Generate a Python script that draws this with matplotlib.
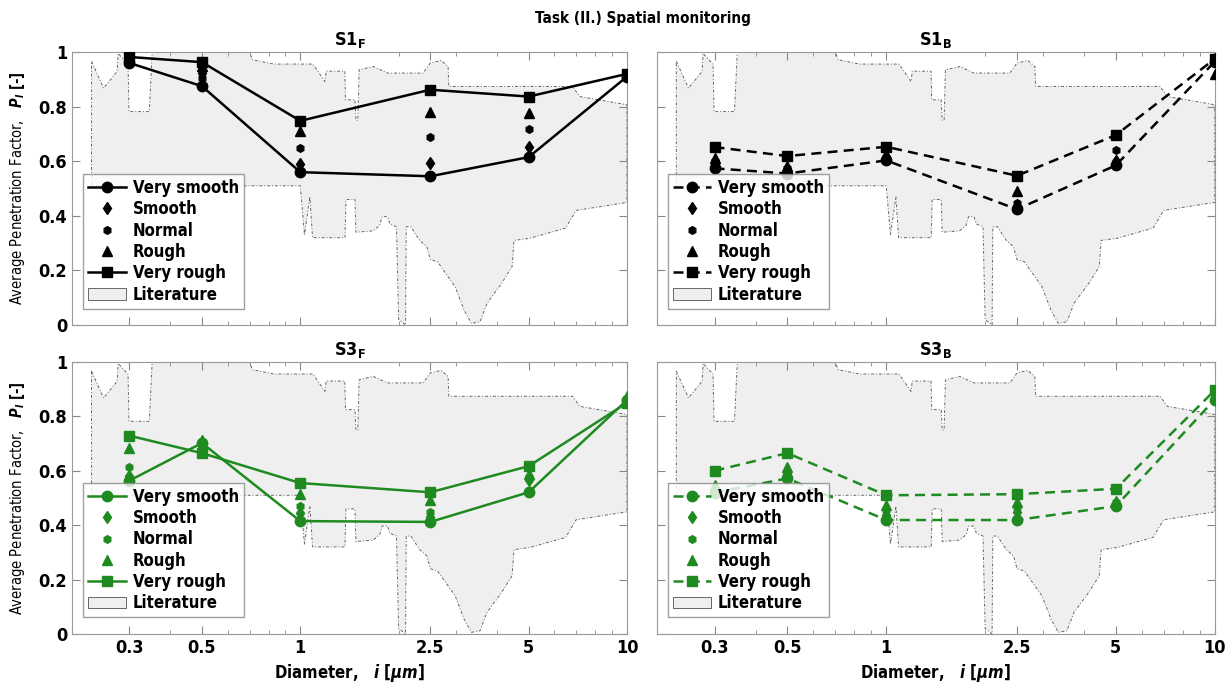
import numpy as np
import matplotlib
matplotlib.use("Agg")
import matplotlib.pyplot as plt
from matplotlib.patches import Patch
from matplotlib.ticker import FixedLocator, LogLocator, NullFormatter

plt.rcParams['font.family'] = ['DejaVu Sans']
plt.rcParams['font.stretch'] = 'condensed'
plt.rcParams['mathtext.fontset'] = 'custom'
plt.rcParams['mathtext.bf'] = 'DejaVu Sans:bold'
plt.rcParams['mathtext.it'] = 'DejaVu Sans:italic:bold'
plt.rcParams['mathtext.rm'] = 'DejaVu Sans:bold'

# particle diameters
sizes = [0.3, 0.5, 1, 2.5, 5, 10]
tick_labels = ['0.3', '0.5', '1', '2.5', '5', '10']

# S1 front
s1f_very_smooth = [0.96, 0.875, 0.56, 0.545, 0.615, 0.91]
s1f_smooth = [0.965, 0.925, 0.59, 0.595, 0.652, 0.915]
s1f_normal = [0.97, 0.905, 0.647, 0.69, 0.718, 0.915]
s1f_rough = [0.975, 0.95, 0.71, 0.78, 0.775, 0.92]
s1f_very_rough = [0.982, 0.963, 0.748, 0.862, 0.837, 0.92]

# S1 back
s1b_very_smooth = [0.574, 0.555, 0.603, 0.424, 0.585, 0.965]
s1b_smooth = [0.59, 0.565, 0.61, 0.437, 0.60, 0.975]
s1b_normal = [0.60, 0.575, 0.615, 0.446, 0.643, 0.975]
s1b_rough = [0.613, 0.582, 0.625, 0.492, 0.60, 0.92]
s1b_very_rough = [0.652, 0.619, 0.653, 0.547, 0.696, 0.975]

# S3 front
s3f_very_smooth = [0.564, 0.702, 0.415, 0.412, 0.521, 0.86]
s3f_smooth = [0.58, 0.705, 0.444, 0.43, 0.565, 0.865]
s3f_normal = [0.615, 0.69, 0.469, 0.45, 0.578, 0.865]
s3f_rough = [0.685, 0.714, 0.514, 0.493, 0.588, 0.875]
s3f_very_rough = [0.729, 0.665, 0.555, 0.521, 0.617, 0.85]

# S3 back
s3b_very_smooth = [0.52, 0.572, 0.419, 0.419, 0.47, 0.862]
s3b_smooth = [0.53, 0.59, 0.437, 0.449, 0.48, 0.866]
s3b_normal = [0.535, 0.596, 0.455, 0.468, 0.485, 0.868]
s3b_rough = [0.547, 0.614, 0.474, 0.486, 0.49, 0.87]
s3b_very_rough = [0.60, 0.665, 0.51, 0.514, 0.534, 0.896]

# literature envelope (upper and lower bound)
lit_up_x = [0.2296, 0.25, 0.275, 0.277, 0.297, 0.299, 0.345, 0.352, 0.70, 0.713, 0.829,
            1.093, 1.19, 1.20, 1.369, 1.375, 1.47, 1.48, 1.50, 1.514, 1.674, 1.85,
            2.378, 2.5, 2.7, 2.834, 2.85, 6.82, 7.17, 10]
lit_up_y = [0.966, 0.868, 0.929, 0.995, 0.955, 0.782, 0.782, 1.0, 1.0, 0.972, 0.956,
            0.956, 0.892, 0.93, 0.93, 0.825, 0.825, 0.75, 0.75, 0.935, 0.947, 0.923,
            0.923, 0.96, 0.969, 0.947, 0.874, 0.874, 0.837, 0.807]
lit_lo_x = [0.2296, 1.0, 1.03, 1.07, 1.09, 1.37, 1.38, 1.47, 1.48, 1.67, 1.75, 1.78,
            1.85, 1.88, 1.97, 2.0, 2.1, 2.11, 2.18, 2.32, 2.44, 2.5, 2.63, 2.834, 2.98,
            3.17, 3.34, 3.55, 3.73, 4.13, 4.45, 4.51, 5.05, 6.49, 6.99, 10]
lit_lo_y = [0.51, 0.51, 0.33, 0.47, 0.32, 0.32, 0.46, 0.46, 0.34, 0.345, 0.365, 0.397,
            0.397, 0.37, 0.36, 0.02, 0.0, 0.36, 0.36, 0.31, 0.287, 0.24, 0.232, 0.177,
            0.14, 0.055, 0.006, 0.012, 0.08, 0.152, 0.214, 0.31, 0.318, 0.355, 0.42, 0.449]

panels = [
    ('S1$_\\mathbf{F}$', 'black', '-', [s1f_very_smooth, s1f_smooth, s1f_normal, s1f_rough, s1f_very_rough]),
    ('S1$_\\mathbf{B}$', 'black', '--', [s1b_very_smooth, s1b_smooth, s1b_normal, s1b_rough, s1b_very_rough]),
    ('S3$_\\mathbf{F}$', '#1f8a1f', '-', [s3f_very_smooth, s3f_smooth, s3f_normal, s3f_rough, s3f_very_rough]),
    ('S3$_\\mathbf{B}$', '#1f8a1f', '--', [s3b_very_smooth, s3b_smooth, s3b_normal, s3b_rough, s3b_very_rough]),
]
names = ['Very smooth', 'Smooth', 'Normal', 'Rough', 'Very rough']
markers = ['o', 'd', 'h', '^', 's']
msizes = [7.5, 6, 5.5, 6.5, 6.5]

positions = [[0.0584, 0.5255, 0.4505, 0.3985], [0.533, 0.5255, 0.453, 0.3985],
             [0.0584, 0.0745, 0.4505, 0.397], [0.533, 0.0745, 0.453, 0.397]]

fig = plt.figure(figsize=(12.32, 6.85), dpi=100)
fig.text(0.522, 0.973, 'Task (II.) Spatial monitoring', ha='center', va='center',
         fontsize=11, fontweight='bold')

poly_x = lit_up_x + lit_lo_x[::-1]
poly_y = lit_up_y + lit_lo_y[::-1]

for k, (title, col, ls, series) in enumerate(panels):
    ax = fig.add_axes(positions[k])
    ax.set_xscale('log')
    ax.fill(poly_x, poly_y, facecolor='#efefef', edgecolor='#666666', lw=0.7,
            linestyle=(0, (3, 2, 1, 2)), zorder=1)
    handles = []
    for i, vals in enumerate(series):
        if i in (0, 4):
            h, = ax.plot(sizes, vals, color=col, ls=ls, lw=1.8, marker=markers[i],
                         ms=msizes[i], zorder=3)
            if ls == '--':
                h.set_dashes((4, 2.5))
        else:
            h, = ax.plot(sizes, vals, color=col, ls='none', marker=markers[i],
                         ms=msizes[i], zorder=3)
        handles.append(h)
    handles.append(Patch(facecolor='#efefef', edgecolor='#666666', lw=0.7))
    leg = ax.legend(handles, names + ['Literature'], loc='lower left',
                    bbox_to_anchor=(0.005, 0.03), prop={'weight': 'bold', 'size': 12},
                    frameon=True, fancybox=False, handlelength=2.3, labelspacing=0.2,
                    borderpad=0.3, handletextpad=0.4)
    leg.get_frame().set_edgecolor('#888888')
    leg.get_frame().set_linewidth(1.0)

    ax.set_xlim(0.2, 10)
    ax.set_ylim(0, 1)
    ax.xaxis.set_major_locator(FixedLocator(sizes))
    ax.xaxis.set_minor_locator(LogLocator(base=10, subs=np.arange(2, 10)))
    ax.xaxis.set_minor_formatter(NullFormatter())
    ax.set_yticks([0, 0.2, 0.4, 0.6, 0.8, 1])
    ax.tick_params(which='both', direction='in', top=True, right=True, color='#888888')
    ax.tick_params(which='major', length=6)
    ax.tick_params(which='minor', length=3)
    for sp in ax.spines.values():
        sp.set_color('#999999')
    ax.set_title(title, fontsize=13, fontweight='bold', pad=5)

    if k >= 2:
        ax.set_xticklabels(tick_labels, fontsize=13, fontweight='bold')
        ax.set_xlabel('Diameter,   $\\mathit{i}$ $\\mathit{[\\mu m]}$', fontsize=12,
                      fontweight='bold', labelpad=4)
    else:
        ax.set_xticklabels([])
    if k % 2 == 0:
        ax.set_yticklabels(['0', '0.2', '0.4', '0.6', '0.8', '1'], fontsize=13,
                           fontweight='bold')
        ax.set_ylabel('Average Penetration Factor,   $\\mathit{P_I}$ $\\mathit{[\\text{-}]}$',
                      fontsize=10.5, labelpad=8)
    else:
        ax.set_yticklabels([])

fig.savefig('out.png', dpi=100)
